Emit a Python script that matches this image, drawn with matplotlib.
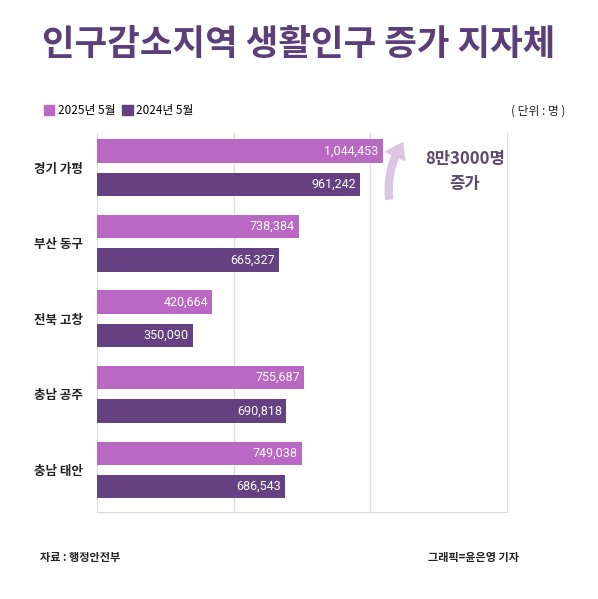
import matplotlib
matplotlib.use("Agg")
import matplotlib.pyplot as plt
from matplotlib.patches import Patch

plt.rcParams['font.family'] = ['Noto Sans CJK KR', 'DejaVu Sans']

# data
regions = ['경기 가평', '부산 동구', '전북 고창', '충남 공주', '충남 태안']
pop_2025 = [1044453, 738384, 420664, 755687, 749038]
pop_2024 = [961242, 665327, 350090, 690818, 686543]
labels = ['2025년 5월', '2024년 5월']

c25 = '#b968c3'
c24 = '#654181'
grid_c = '#dcdcdc'

fig = plt.figure(figsize=(5.98, 5.99), dpi=100)
ax = fig.add_axes([0.162, 0.145, 0.686, 0.633])

ys = list(range(len(regions)))
off = 0.22
h = 0.31
ax.barh([y - off for y in ys], pop_2025, height=h, color=c25, zorder=3)
ax.barh([y + off for y in ys], pop_2024, height=h, color=c24, zorder=3)

num_font = ['Roboto', 'DejaVu Sans']
for y, v in zip(ys, pop_2025):
    ax.text(v - 14000, y - off, f'{v:,}', ha='right', va='center',
            color='white', fontsize=9, family=num_font, zorder=4)
for y, v in zip(ys, pop_2024):
    ax.text(v - 14000, y + off, f'{v:,}', ha='right', va='center',
            color='white', fontsize=9, family=num_font, zorder=4)

ax.set_xlim(0, 1500000)
ax.set_ylim(4.56, -0.46)
ax.set_xticks([500000, 1000000])
ax.set_xticklabels([])
ax.tick_params(axis='x', length=0)
ax.grid(axis='x', color=grid_c, linewidth=1, zorder=0)
ax.set_yticks(ys)
ax.set_yticklabels(regions, fontsize=9, fontweight='bold', color='#222222')
ax.tick_params(axis='y', length=0, pad=10)
for s in ['left', 'bottom', 'right']:
    ax.spines[s].set_color(grid_c)
ax.spines['top'].set_visible(False)

# title
fig.text(0.5, 0.925, '인구감소지역 생활인구 증가 지자체', ha='center', va='center',
         fontsize=25.5, fontweight='bold', color='#5c3f7a')

# legend
handles = [Patch(color=c25), Patch(color=c24)]
fig.legend(handles, labels, loc='center left', bbox_to_anchor=(0.055, 0.815),
           ncol=2, frameon=False, handlelength=0.9, handleheight=0.9,
           handletextpad=0.3, columnspacing=0.6, fontsize=8.5)
fig.text(0.9, 0.815, '( 단위 : 명 )', ha='center', va='center', fontsize=8.5,
         color='#222222')

# increase annotation
ax.annotate('', xy=(1125000, -0.36), xytext=(1070000, 0.45),
            arrowprops=dict(arrowstyle='simple,head_width=1.5,head_length=1.1,tail_width=0.5',
                            color='#dcc4e4', connectionstyle='arc3,rad=-0.2'),
            annotation_clip=False, zorder=2)
ax.text(1345000, -0.12, '8만3000명', ha='center', va='center', fontsize=12,
        fontweight='bold', color='#5a4a6c')
ax.text(1345000, 0.22, '증가', ha='center', va='center', fontsize=12,
        fontweight='bold', color='#5a4a6c')

# footer
fig.text(0.067, 0.07, '자료 : 행정안전부', ha='left', va='center', fontsize=8,
         fontweight='bold', color='#222222')
fig.text(0.868, 0.07, '그래픽=윤은영 기자', ha='right', va='center', fontsize=8,
         fontweight='bold', color='#222222')

fig.savefig('out.png', dpi=100, facecolor='white')
